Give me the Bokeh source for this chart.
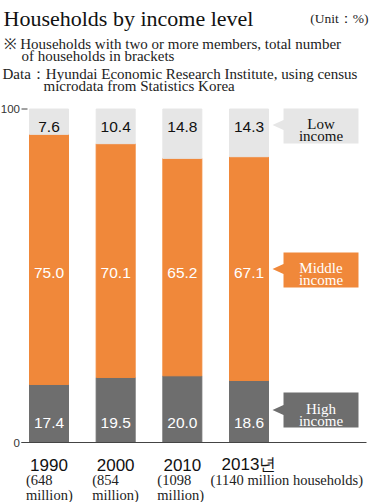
from bokeh.plotting import figure
from bokeh.models import ColumnDataSource, Range1d
from bokeh.core.properties import value
from bokeh.embed import file_html
from bokeh.resources import INLINE

# ---------------- data ----------------
years = ["1990", "2000", "2010", "2013년"]
households = ["(648\nmillion)", "(854\nmillion)", "(1098\nmillion)", "(1140 million households)"]
high_income = [17.4, 19.5, 20.0, 18.6]
middle_income = [75.0, 70.1, 65.2, 67.1]
low_income = [7.6, 10.4, 14.8, 14.3]
segment_names = ["High\nincome", "Middle\nincome", "Low\nincome"]
y_ticks = [0, 100]

title = "Households by income level"
unit = "(Unit：%)"
notes = ["※ Households with two or more members, total number",
         "of households in brackets",
         "Data：Hyundai Economic Research Institute, using census",
         "microdata from Statistics Korea"]

# ---------------- style ----------------
ORANGE = "#F0883A"
LIGHT = "#E6E6E6"
DARK = "#6E6E6E"
SERIF = "Liberation Serif"
SANS = "Liberation Sans"

W, H = 370, 502
PX_X = 66.67   # pixels per category step
PX_Y = 3.335   # pixels per percent


def rx(px):
    return (px - 48.5) / PX_X


def ry(py):
    return (442 - py) / PX_Y


p = figure(width=W, height=H,
           x_range=Range1d(rx(0), rx(W)),
           y_range=Range1d(ry(H), ry(0)),
           output_backend="svg", toolbar_location=None,
           min_border_left=0, min_border_right=0, min_border_top=0, min_border_bottom=0,
           x_axis_type=None, y_axis_type=None)
p.outline_line_color = None
p.grid.visible = False
p.background_fill_color = "white"
p.border_fill_color = "white"

xs = list(range(len(years)))
src = ColumnDataSource(dict(
    x=xs, year=years,
    high=high_income, middle=middle_income, low=low_income,
    high_lbl=[f"{v:.1f}" for v in high_income],
    middle_lbl=[f"{v:.1f}" for v in middle_income],
    low_lbl=[f"{v:.1f}" for v in low_income],
    hh1=[h.split("\n")[0] for h in households],
    hh2=[h.split("\n")[1] if "\n" in h else "" for h in households],
    hx=[x + d / PX_X for x, d in zip(xs, [-23, -23.5, -25, -38.5])],
))

p.vbar_stack(["high", "middle", "low"], x="x", width=39 / PX_X,
             color=[DARK, ORANGE, LIGHT], source=src)

# value axis: baseline, ticks and tick labels
p.segment(x0=rx(21), y0=0, x1=rx(366), y1=0, line_color="#444444", line_width=1)
p.segment(x0=[rx(21)] * len(y_ticks), y0=y_ticks, x1=[rx(27)] * len(y_ticks), y1=y_ticks,
          line_color="#444444", line_width=1)
p.text(x=[rx(19.5)] * len(y_ticks), y=y_ticks, text=[str(t) for t in y_ticks],
       text_align="right", text_baseline="middle", text_font=value(SANS),
       text_font_size="11.5px", text_color="#333333")

# in-bar values
for col, yref, colr in [("low_lbl", 126.7, "#111111"),
                        ("middle_lbl", 272.3, "white"),
                        ("high_lbl", 422.5, "white")]:
    p.text(x="x", y=ry(yref), text=col, source=src, text_align="center",
           text_baseline="alphabetic", text_font=value(SANS),
           text_font_size="15.5px", text_color=colr)

# year labels
p.text(x="x", y=ry(464), text="year", source=src, text_align="center",
       text_baseline="alphabetic", text_font=value(SANS),
       text_font_size="17px", text_color="#111111")
for col, yref in [("hh1", 479.5), ("hh2", 494)]:
    p.text(x="hx", y=ry(yref), text=col, source=src, text_align="left",
           text_baseline="alphabetic", text_font=value(SERIF),
           text_font_size="14.5px", text_color="#222222")

# callouts (pixel layout: top, bottom, tip)
callouts = [(392, 427, 409.5, DARK, "white"),
            (252, 287, 268.5, ORANGE, "white"),
            (108, 143, 124.5, LIGHT, "#111111")]
bx0, bx1, tipx = rx(283), rx(358), rx(272)
pxs, pys = [], []
for top, bot, tip, fc, tc in callouts:
    pxs.append([bx0, bx1, bx1, bx0, bx0, tipx, bx0])
    pys.append([ry(top), ry(top), ry(bot), ry(bot), ry(tip + 5), ry(tip), ry(tip - 5)])
p.patches(pxs, pys, fill_color=[c[3] for c in callouts], line_color=None)
for (top, bot, tip, fc, tc), name in zip(callouts, segment_names):
    l1, l2 = name.split("\n")
    p.text(x=[rx(320.5)], y=[ry(tip - 1.5)], text=[l1], text_align="center",
           text_baseline="alphabetic", text_font=value(SERIF),
           text_font_size="15px", text_color=tc)
    p.text(x=[rx(320.5)], y=[ry(tip + 10.5)], text=[l2], text_align="center",
           text_baseline="alphabetic", text_font=value(SERIF),
           text_font_size="15px", text_color=tc)

# header texts
p.text(x=[rx(3)], y=[ry(18)], text=[title], text_align="left",
       text_baseline="alphabetic", text_font=value(SERIF),
       text_font_size="22px", text_color="#111111")
p.text(x=[rx(368)], y=[ry(18)], text=[unit], text_align="right",
       text_baseline="alphabetic", text_font=value(SERIF),
       text_font_size="13.5px", text_color="#222222")
for (xr, yr), t in zip([(3, 43), (21, 55), (2, 73), (43, 85)], notes):
    p.text(x=[rx(xr)], y=[ry(yr)], text=[t], text_align="left",
           text_baseline="alphabetic", text_font=value(SERIF),
           text_font_size="15px", text_color="#222222")

open("out.html", "w").write(file_html(p, INLINE))
